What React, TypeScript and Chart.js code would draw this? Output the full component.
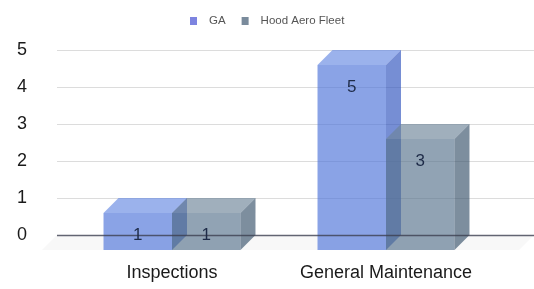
import React, { useEffect, useRef } from 'react';
import { Chart, registerables } from 'chart.js';

Chart.register(...registerables);

// ---- data ----
const categories = ['Inspections', 'General Maintenance'];
const seriesNames = ['GA', 'Hood Aero Fleet'];
const gaValues = [1, 5];
const hoodValues = [1, 3];
const yMin = 0;
const yMax = 5;
const yStep = 1;

// ---- styles ----
const W = 534;
const H = 289;
const DEPTH = 15;
const FONT = 'Arial, "Liberation Sans", sans-serif';

const palette = [
  { front: 'rgb(75,113,216)', top: 'rgb(101,136,226)', side: 'rgb(44,81,189)', legend: '#7d84e0' },
  { front: 'rgb(86,114,140)', top: 'rgb(109,132,152)', side: 'rgb(55,81,106)', legend: '#7a8b9c' },
];
const BAR_ALPHA = 0.65;

const bars3d = {
  id: 'bars3d',
  beforeDatasetsDraw(chart: any) {
    const { ctx, chartArea } = chart;
    const ys = chart.scales.y;
    const gx0 = chartArea.left - 23;
    ctx.save();
    // floor
    const y0 = ys.getPixelForValue(0);
    ctx.fillStyle = '#f8f8f8';
    ctx.beginPath();
    ctx.moveTo(gx0, y0);
    ctx.lineTo(W, y0);
    ctx.lineTo(W - DEPTH, y0 + DEPTH);
    ctx.lineTo(gx0 - DEPTH, y0 + DEPTH);
    ctx.closePath();
    ctx.fill();
    // grid lines
    ctx.strokeStyle = '#dcdcdc';
    ctx.lineWidth = 1;
    ys.ticks.forEach((t: any) => {
      if (t.value === 0) return;
      const py = Math.round(ys.getPixelForValue(t.value)) + 0.5;
      ctx.beginPath();
      ctx.moveTo(gx0, py);
      ctx.lineTo(W, py);
      ctx.stroke();
    });
    ctx.restore();
  },
  afterDatasetsDraw(chart: any) {
    const { ctx, chartArea } = chart;
    const ys = chart.scales.y;
    const gx0 = chartArea.left - 23;
    const n = chart.data.labels.length;
    ctx.save();
    ctx.globalAlpha = BAR_ALPHA;
    for (let i = 0; i < n; i++) {
      chart.data.datasets.forEach((ds: any, di: number) => {
        const el = chart.getDatasetMeta(di).data[i];
        const { x, y, base, width } = el.getProps(['x', 'y', 'base', 'width'], true);
        const x0 = x - width / 2;
        const x1 = x + width / 2;
        const c = palette[di];
        // front
        ctx.fillStyle = c.front;
        ctx.fillRect(x0 - DEPTH, y + DEPTH, width, base - y);
        // top
        ctx.fillStyle = c.top;
        ctx.beginPath();
        ctx.moveTo(x0 - DEPTH, y + DEPTH);
        ctx.lineTo(x1 - DEPTH, y + DEPTH);
        ctx.lineTo(x1, y);
        ctx.lineTo(x0, y);
        ctx.closePath();
        ctx.fill();
        // side
        ctx.fillStyle = c.side;
        ctx.beginPath();
        ctx.moveTo(x1 - DEPTH, y + DEPTH);
        ctx.lineTo(x1, y);
        ctx.lineTo(x1, base);
        ctx.lineTo(x1 - DEPTH, base + DEPTH);
        ctx.closePath();
        ctx.fill();
      });
    }
    ctx.globalAlpha = 1;
    // zero line
    const y0 = Math.round(ys.getPixelForValue(0)) + 0.5;
    ctx.strokeStyle = 'rgba(60,64,80,0.8)';
    ctx.lineWidth = 1.5;
    ctx.beginPath();
    ctx.moveTo(gx0, y0);
    ctx.lineTo(W, y0);
    ctx.stroke();
    // value labels
    ctx.fillStyle = '#1e2b48';
    ctx.font = '17px ' + FONT;
    ctx.textAlign = 'center';
    ctx.textBaseline = 'middle';
    chart.data.datasets.forEach((ds: any, di: number) => {
      chart.getDatasetMeta(di).data.forEach((el: any, i: number) => {
        const { x, y } = el.getProps(['x', 'y'], true);
        ctx.fillText(String(ds.data[i]), x - DEPTH, y + DEPTH + 22);
      });
    });
    // legend
    ctx.font = '11.5px ' + FONT;
    ctx.textAlign = 'left';
    const boxW = 7;
    const gap = 12;
    const itemGap = 16;
    const widths = seriesNames.map((s) => ctx.measureText(s).width);
    const total = widths.reduce((a, b) => a + b, 0) + seriesNames.length * (boxW + gap) + (seriesNames.length - 1) * itemGap;
    let lx = Math.round((W - total) / 2);
    const ly = 21;
    seriesNames.forEach((s, k) => {
      ctx.fillStyle = palette[k].legend;
      ctx.fillRect(lx, ly - 4, boxW, 8);
      ctx.fillStyle = '#555';
      ctx.fillText(s, lx + boxW + gap, ly);
      lx += boxW + gap + widths[k] + itemGap;
    });
    ctx.restore();
  },
};

export default function App() {
  const ref = useRef<HTMLCanvasElement>(null);
  useEffect(() => {
    if (!ref.current) return;
    const chart = new Chart(ref.current, {
      type: 'bar',
      data: {
        labels: categories,
        datasets: [
          { label: seriesNames[0], data: gaValues, backgroundColor: 'rgba(0,0,0,0)', borderWidth: 0 },
          { label: seriesNames[1], data: hoodValues, backgroundColor: 'rgba(0,0,0,0)', borderWidth: 0 },
        ],
      },
      options: {
        responsive: false,
        animation: false,
        events: [],
        layout: { padding: { left: 17, right: 26, top: 50, bottom: 0 } },
        datasets: { bar: { categoryPercentage: 0.64, barPercentage: 1 } },
        plugins: { legend: { display: false }, tooltip: { enabled: false } },
        scales: {
          x: {
            grid: { display: false, drawTicks: false },
            border: { display: false },
            ticks: { color: '#1a1a1a', font: { size: 18, family: FONT }, labelOffset: -DEPTH, padding: 27, maxRotation: 0 },
            afterFit: (s: any) => { s.height = 54; },
          },
          y: {
            min: yMin,
            max: yMax,
            grid: { display: false, drawTicks: false },
            border: { display: false },
            ticks: { stepSize: yStep, color: '#1a1a1a', font: { size: 18, family: FONT }, crossAlign: 'far', padding: 0 },
            afterFit: (s: any) => { s.width = 63; },
          },
        },
      },
      plugins: [bars3d],
    });
    return () => chart.destroy();
  }, []);
  return (
    <div style={{ position: 'absolute', left: 0, top: 0, width: W, height: H, background: '#fff' }}>
      <canvas ref={ref} width={W} height={H} style={{ width: W, height: H }} />
    </div>
  );
}
